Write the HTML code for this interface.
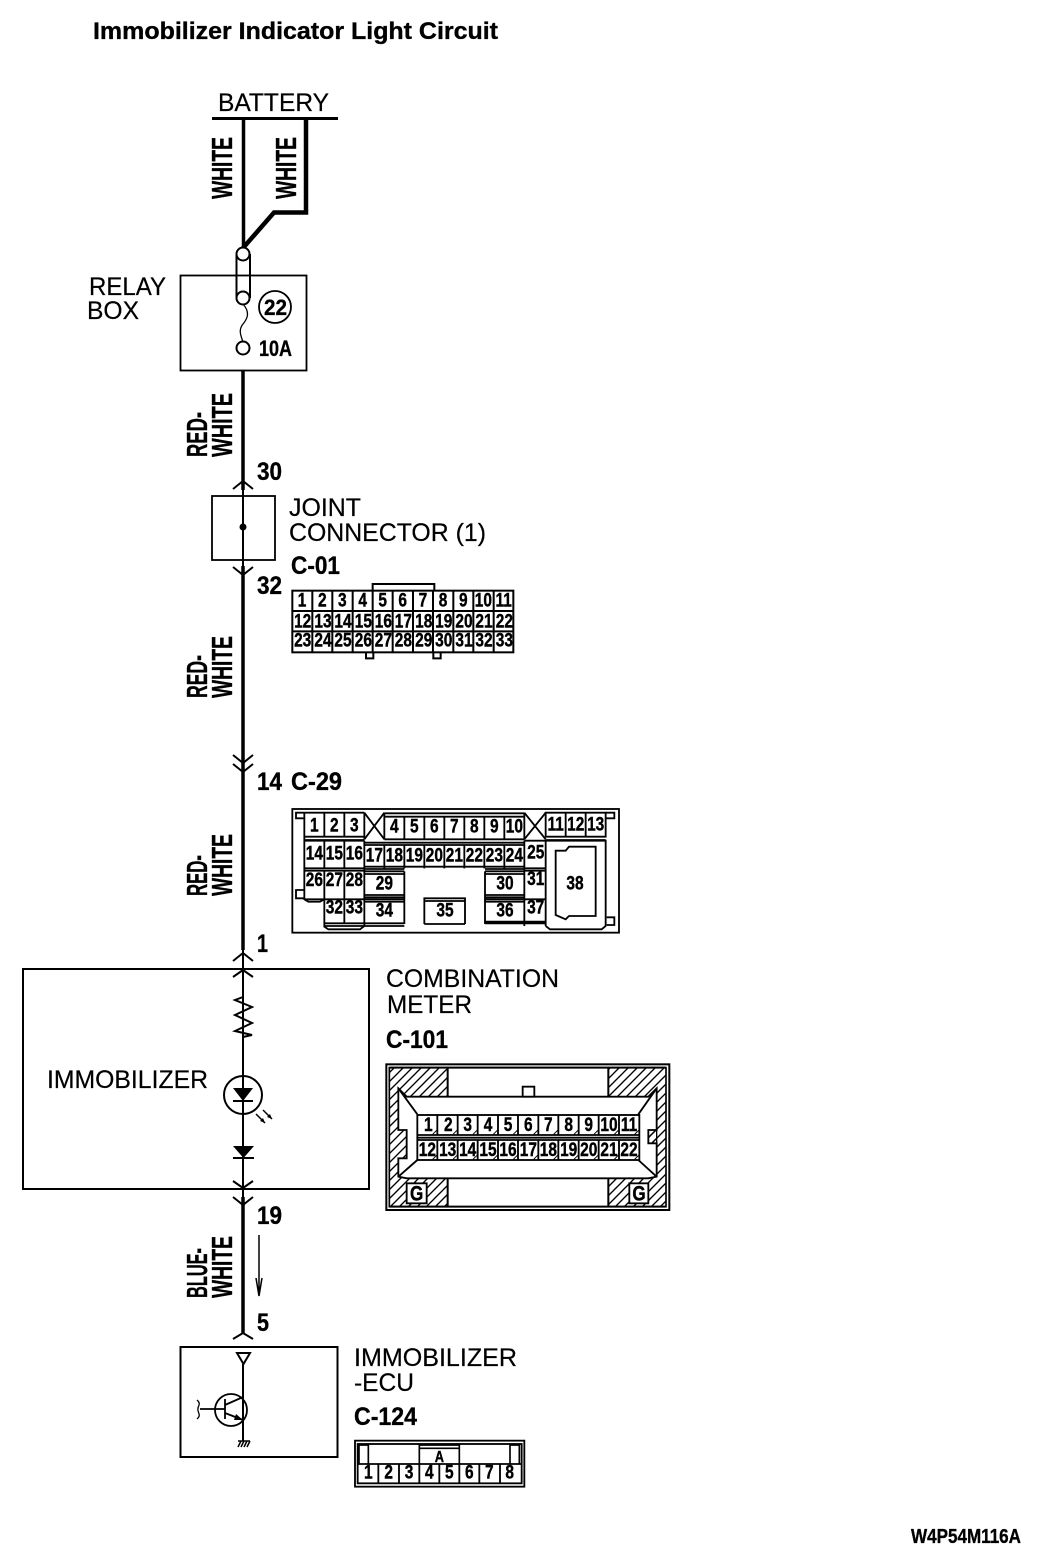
<!DOCTYPE html>
<html><head><meta charset="utf-8"><style>
html,body{margin:0;padding:0;background:#fff}
svg{display:block}
text{font-family:"Liberation Sans",sans-serif;fill:#000;stroke:#000;stroke-width:.2px}
.b{font-weight:bold;stroke-width:.35px}
.c text{font-weight:bold;font-size:58px;text-anchor:middle;stroke-width:1.2px;transform:scaleX(.8);transform-box:fill-box;transform-origin:center}
.l{fill:none;stroke:#000}
.f{fill:#fff;stroke:#000}
</style></head><body>
<svg width="1056" height="1564" viewBox="0 0 1056 1564" xmlns="http://www.w3.org/2000/svg">
<defs><pattern id="h" width="27" height="27" patternUnits="userSpaceOnUse"><path d="M-5 32L32 -5M-5 5L5 -5M22 32L32 22" stroke="#000" stroke-width="4" fill="none"/></pattern></defs>
<rect width="1056" height="1564" fill="#fff"/>
<text x="93" y="39" class="b" font-size="24" textLength="405" lengthAdjust="spacingAndGlyphs">Immobilizer Indicator Light Circuit</text>
<text x="218" y="111" font-size="25" textLength="111" lengthAdjust="spacingAndGlyphs">BATTERY</text>
<path class="l" stroke-width="3" d="M212 118.500H338"/>
<path class="l" stroke-width="3.500" d="M243.500 118V248"/>
<path class="l" stroke-width="4.500" d="M306 118V212.500H274L243 248"/>
<rect class="l" stroke-width="1.800" x="180.500" y="275.500" width="126" height="95"/>
<path class="l" stroke-width="2" d="M236.500 254V298M250 254V298"/>
<circle cx="243" cy="254" r="6.500" class="f" stroke-width="2"/>
<circle cx="243" cy="298" r="6.500" class="f" stroke-width="2"/>
<circle cx="243" cy="348" r="6.500" class="f" stroke-width="2"/>
<path class="l" stroke-width="1.300" d="M243 304C250 312 248 318 243 324C238 330 241 336 243 342"/>
<circle cx="275" cy="307" r="16" class="f" stroke-width="1.800"/>
<text x="264" y="315" class="b" font-size="22" textLength="23" lengthAdjust="spacingAndGlyphs">22</text>
<text x="259" y="356" class="b" font-size="22" textLength="33" lengthAdjust="spacingAndGlyphs">10A</text>
<text x="89" y="295" font-size="25" textLength="77" lengthAdjust="spacingAndGlyphs">RELAY</text>
<text x="87" y="319" font-size="25" textLength="52" lengthAdjust="spacingAndGlyphs">BOX</text>

<g class="b" font-size="29">
<text class="b" transform="translate(232,199) rotate(-90)" textLength="62" lengthAdjust="spacingAndGlyphs">WHITE</text>
<text class="b" transform="translate(296,199) rotate(-90)" textLength="62" lengthAdjust="spacingAndGlyphs">WHITE</text>
<text class="b" transform="translate(207,457) rotate(-90)" textLength="45" lengthAdjust="spacingAndGlyphs">RED-</text>
<text class="b" transform="translate(232,457) rotate(-90)" textLength="64" lengthAdjust="spacingAndGlyphs">WHITE</text>
<text class="b" transform="translate(207,698) rotate(-90)" textLength="43" lengthAdjust="spacingAndGlyphs">RED-</text>
<text class="b" transform="translate(232,698) rotate(-90)" textLength="62" lengthAdjust="spacingAndGlyphs">WHITE</text>
<text class="b" transform="translate(207,896) rotate(-90)" textLength="41" lengthAdjust="spacingAndGlyphs">RED-</text>
<text class="b" transform="translate(232,896) rotate(-90)" textLength="62" lengthAdjust="spacingAndGlyphs">WHITE</text>
<text class="b" transform="translate(207,1298) rotate(-90)" textLength="50" lengthAdjust="spacingAndGlyphs">BLUE-</text>
<text class="b" transform="translate(232,1298) rotate(-90)" textLength="62" lengthAdjust="spacingAndGlyphs">WHITE</text>
</g>

<!-- main wire -->
<path class="l" stroke-width="3.500" d="M243 371V490M243 566V950M243 1197V1333"/>
<path class="l" stroke-width="2" d="M243 480V575M243 950V1197"/>
<g class="l" stroke-width="2">
<path d="M233 489L243 481L253 489"/>
<path d="M233 567L243 575L253 567"/>
<path d="M233 755L243 763L253 755M233 764L243 772L253 764"/>
<path d="M233 961L243 953L253 961"/>
<path d="M233 977L243 970L253 977"/>
<path d="M233 1181L243 1188L253 1181"/>
<path d="M233 1197L243 1205L253 1197"/>
<path d="M233 1339L243 1333L253 1339"/>
</g>
<text x="257" y="480" class="b" font-size="25" textLength="25" lengthAdjust="spacingAndGlyphs">30</text>
<text x="257" y="594" class="b" font-size="25" textLength="25" lengthAdjust="spacingAndGlyphs">32</text>
<text x="257" y="790" class="b" font-size="25" textLength="25" lengthAdjust="spacingAndGlyphs">14</text>
<text x="291" y="790" class="b" font-size="25" textLength="51" lengthAdjust="spacingAndGlyphs">C-29</text>
<text x="257" y="952" class="b" font-size="25" textLength="11" lengthAdjust="spacingAndGlyphs">1</text>
<text x="257" y="1224" class="b" font-size="25" textLength="25" lengthAdjust="spacingAndGlyphs">19</text>
<text x="257" y="1331" class="b" font-size="25" textLength="12" lengthAdjust="spacingAndGlyphs">5</text>

<!-- joint -->
<rect class="l" stroke-width="1.800" x="212" y="496" width="63" height="64"/>
<circle cx="243" cy="527" r="3.500" fill="#000"/>
<text x="289" y="516" font-size="25" textLength="72" lengthAdjust="spacingAndGlyphs">JOINT</text>
<text x="289" y="541" font-size="25" textLength="197" lengthAdjust="spacingAndGlyphs">CONNECTOR (1)</text>
<text x="291" y="574" class="b" font-size="25" textLength="49" lengthAdjust="spacingAndGlyphs">C-01</text>

<!-- C-01 -->
<g class="c" transform="translate(280,550) scale(.33333)">
<path class="l" stroke-width="6" d="M278 122V102H463V122M258 305V325H280V305M460 305V325H482V305"/>
<rect class="f" stroke-width="6" x="37" y="122" width="663" height="185"/>
<path class="l" stroke-width="6" d="M37 183H700M37 244H700M97 122V307M157 122V307M218 122V307M278 122V307M338 122V307M399 122V307M459 122V307M520 122V307M580 122V307M641 122V307"/>
<text x="66" y="170">1</text><text x="127" y="170">2</text><text x="187" y="170">3</text><text x="248" y="170">4</text><text x="308" y="170">5</text><text x="368" y="170">6</text><text x="429" y="170">7</text><text x="489" y="170">8</text><text x="550" y="170">9</text><text x="610" y="170">10</text><text x="671" y="170">11</text>
<text x="68" y="232">12</text><text x="129" y="232">13</text><text x="189" y="232">14</text><text x="250" y="232">15</text><text x="310" y="232">16</text><text x="370" y="232">17</text><text x="431" y="232">18</text><text x="491" y="232">19</text><text x="552" y="232">20</text><text x="612" y="232">21</text><text x="673" y="232">22</text>
<text x="68" y="290">23</text><text x="129" y="290">24</text><text x="189" y="290">25</text><text x="250" y="290">26</text><text x="310" y="290">27</text><text x="370" y="290">28</text><text x="431" y="290">29</text><text x="491" y="290">30</text><text x="552" y="290">31</text><text x="612" y="290">32</text><text x="673" y="290">33</text>
</g>

<!-- C-29 -->
<g class="c" transform="translate(285,800) scale(.33333)">
<rect class="l" stroke-width="5.500" x="22" y="27" width="980" height="371"/>
<g class="l" stroke-width="5.500">
<path d="M58 55H33V38H58M962 55H988V38H962M58 295H33V270H58M965 375H988V352H965"/>
<path d="M58 38H238M238 38V118M58 38V300M118 38V110M178 38V110M58 110H238M58 120H238"/>
<path d="M238 38L298 118M298 38L238 118"/>
<path d="M298 40H718M298 50H718M298 40V118M298 118H718M358 50V118M418 50V118M478 50V118M538 50V118M598 50V118M658 50V118M718 40V118"/>
<path d="M718 38L782 118M782 38L718 118"/>
<path d="M782 38H962V110H782ZM842 38V110M902 38V110M782 120H962"/>
<path d="M58 122H238M118 122V205M178 122V205M238 122V378M58 205H238M58 212H238"/>
<path d="M238 128H718M238 135H718M298 135V205M358 135V205M418 135V205M478 135V205M538 135V205M598 135V205M658 135V205M718 122V378M238 200H718M238 207H358M600 207H718"/>
<path d="M718 122H782V378M718 205H782M718 212H782"/>
<path d="M118 212V378M178 212V370M58 298H118L105 305H70L58 298"/>
<path d="M238 214H358M238 222H358M358 214V372M600 214H718M600 222H718M600 214V372"/>
<path d="M238 285H358M238 292H358M600 285H718M600 292H718M238 298H358M238 305H358M600 298H718M600 305H718"/>
<path d="M118 298H238M718 298H782"/>
<path d="M118 370H358M118 378H358M600 370H782M600 365H782"/>
<path d="M118 378V380L130 388H225L238 378"/>
<path d="M418 372V295H540V372M418 303H540M418 372H540"/>
<path d="M782 122H962V378L950 388H795L782 378"/>
<path d="M812 152H842L852 140H932V348H852L842 358L812 345Z"/>
</g>
<text x="88" y="95">1</text><text x="148" y="95">2</text><text x="208" y="95">3</text>
<text x="328" y="98">4</text><text x="388" y="98">5</text><text x="448" y="98">6</text><text x="508" y="98">7</text><text x="568" y="98">8</text><text x="628" y="98">9</text><text x="688" y="98">10</text>
<text x="812" y="92">11</text><text x="872" y="92">12</text><text x="932" y="92">13</text>
<text x="88" y="178">14</text><text x="148" y="178">15</text><text x="208" y="178">16</text>
<text x="268" y="185">17</text><text x="328" y="185">18</text><text x="388" y="185">19</text><text x="448" y="185">20</text><text x="508" y="185">21</text><text x="568" y="185">22</text><text x="628" y="185">23</text><text x="688" y="185">24</text>
<text x="752" y="175">25</text>
<text x="88" y="258">26</text><text x="148" y="258">27</text><text x="208" y="258">28</text>
<text x="298" y="268">29</text><text x="660" y="268">30</text><text x="752" y="255">31</text><text x="870" y="268">38</text>
<text x="148" y="340">32</text><text x="208" y="340">33</text>
<text x="298" y="350">34</text><text x="480" y="350">35</text><text x="660" y="350">36</text><text x="752" y="340">37</text>
</g>

<!-- Combination meter -->
<rect class="l" stroke-width="2" x="23" y="969" width="346" height="220"/>
<path class="l" stroke-width="2" d="M243 997L235 1000L252 1007L235 1015L252 1023L235 1031L252 1035L243 1037"/>
<circle cx="243" cy="1095" r="19" fill="none" stroke="#000" stroke-width="2"/>
<path d="M233 1088H253L243 1101Z"/>
<path class="l" stroke-width="2" d="M233 1101H253"/>
<path d="M233 1146H254L243.500 1158Z"/>
<path class="l" stroke-width="2" d="M233 1158H254"/>
<path class="l" stroke-width="1.500" d="M256 1114L265 1123M263 1110L272 1119"/>
<path d="M265 1123L260 1121L263 1118ZM272 1119L267 1117L270 1114Z"/>
<text x="47" y="1088" font-size="25" textLength="161" lengthAdjust="spacingAndGlyphs">IMMOBILIZER</text>
<text x="386" y="987" font-size="25" textLength="173" lengthAdjust="spacingAndGlyphs">COMBINATION</text>
<text x="387" y="1013" font-size="25" textLength="85" lengthAdjust="spacingAndGlyphs">METER</text>
<text x="386" y="1048" class="b" font-size="25" textLength="62" lengthAdjust="spacingAndGlyphs">C-101</text>

<!-- C-101 -->
<g class="c" transform="translate(380,1055) scale(.33333)">
<rect class="l" stroke-width="6" x="19" y="28" width="849" height="437"/>
<rect x="28" y="38" width="830" height="417" fill="url(#h)" stroke="#000" stroke-width="5"/>
<rect x="203" y="36" width="482" height="89" fill="#fff"/>
<rect x="203" y="370" width="482" height="88" fill="#fff"/>
<path class="l" stroke-width="6" d="M28 38H858M28 455H858M203 38V125M685 38V125M203 370V455M685 370V455"/>
<path d="M55 100L80 125H805L830 100V225H805V265H830V365L805 370H80L55 365V310H80V225H55Z" class="f" stroke-width="5.500"/>
<rect class="f" stroke-width="5.500" x="428" y="95" width="35" height="30"/>
<path class="l" stroke-width="5.500" d="M55 100L112 178M830 100L775 178M55 365L112 315M830 365L775 315"/>
<path fill="url(#h)" stroke="#000" stroke-width="4" d="M805 225L830 225V265H805Z"/>
<rect class="f" stroke-width="5.500" x="112" y="180" width="666" height="135"/>
<path class="l" stroke-width="5.500" d="M112 240H778M112 248H778M112 255H778M172 180V240M233 180V240M293 180V240M354 180V240M414 180V240M475 180V240M535 180V240M596 180V240M656 180V240M717 180V240M172 255V315M233 255V315M293 255V315M354 255V315M414 255V315M475 255V315M535 255V315M596 255V315M656 255V315M717 255V315"/>
<path class="l" stroke-width="3" d="M158 238l12 -12M219 238l12 -12M279 238l12 -12M340 238l12 -12M400 238l12 -12M461 238l12 -12M521 238l12 -12M582 238l12 -12M642 238l12 -12M703 238l12 -12M764 238l12 -12M158 313l12 -12M219 313l12 -12M279 313l12 -12M340 313l12 -12M400 313l12 -12M461 313l12 -12M521 313l12 -12M582 313l12 -12M642 313l12 -12M703 313l12 -12M764 313l12 -12"/>
<text x="145" y="228">1</text><text x="205" y="228">2</text><text x="263" y="228">3</text><text x="324" y="228">4</text><text x="384" y="228">5</text><text x="445" y="228">6</text><text x="505" y="228">7</text><text x="566" y="228">8</text><text x="626" y="228">9</text><text x="687" y="228">10</text><text x="747" y="228">11</text>
<text x="142" y="303">12</text><text x="203" y="303">13</text><text x="263" y="303">14</text><text x="324" y="303">15</text><text x="384" y="303">16</text><text x="445" y="303">17</text><text x="505" y="303">18</text><text x="566" y="303">19</text><text x="626" y="303">20</text><text x="687" y="303">21</text><text x="747" y="303">22</text>
<rect x="80" y="385" width="60" height="60" class="f" stroke-width="5.500"/>
<rect x="748" y="385" width="57" height="60" class="f" stroke-width="5.500"/>
<text x="110" y="436" style="font-size:64px">G</text><text x="777" y="436" style="font-size:64px">G</text>
</g>

<!-- blue wire arrow -->
<path class="l" stroke-width="1.500" d="M259 1235V1296M256 1278L259 1296L262 1278"/>

<!-- ECU -->
<rect class="l" stroke-width="2" x="180.500" y="1347" width="157" height="110"/>
<path class="l" stroke-width="2" d="M237 1353H250L243.500 1364ZM243 1364V1441"/>
<circle cx="231" cy="1410" r="16" fill="none" stroke="#000" stroke-width="1.800"/>
<path class="l" stroke-width="1.800" d="M200 1409H225M225 1399V1419M225 1405L243 1397M225 1413L243 1420"/>
<path d="M243 1420L234 1420L236 1414Z"/>
<path class="l" stroke-width="1.300" d="M197 1400C202 1404 197 1407 198 1409C197 1412 202 1415 197 1419"/>
<path class="l" stroke-width="1.500" d="M238 1441H250M238 1447L241 1441M241 1447L244 1441M244 1447L247 1441M247 1447L250 1441"/>
<text x="354" y="1366" font-size="25" textLength="163" lengthAdjust="spacingAndGlyphs">IMMOBILIZER</text>
<text x="354" y="1391" font-size="25" textLength="60" lengthAdjust="spacingAndGlyphs">-ECU</text>
<text x="354" y="1425" class="b" font-size="25" textLength="63" lengthAdjust="spacingAndGlyphs">C-124</text>

<!-- C-124 -->
<g class="c" transform="translate(175,1310) scale(.33333)">
<rect class="l" stroke-width="5.500" x="540" y="392" width="508" height="138"/>
<rect class="l" stroke-width="5.500" x="548" y="402" width="492" height="118"/>
<path class="l" stroke-width="5.500" d="M550 462H1040M610 462V520M672 462V520M733 462V520M793 462V520M853 462V520M913 462V520M975 462V520"/>
<path class="l" stroke-width="5" d="M552 462V405H580V462M1005 462V405H1033V462M733 462V405H853V462M733 415H853"/>
<text x="580" y="505">1</text><text x="641" y="505">2</text><text x="702" y="505">3</text><text x="763" y="505">4</text><text x="823" y="505">5</text><text x="883" y="505">6</text><text x="943" y="505">7</text><text x="1004" y="505">8</text>
<text x="793" y="456" style="font-size:48px">A</text>
</g>

<text x="911" y="1543" class="b" font-size="20" textLength="110" lengthAdjust="spacingAndGlyphs">W4P54M116A</text>
</svg>
</body></html>
